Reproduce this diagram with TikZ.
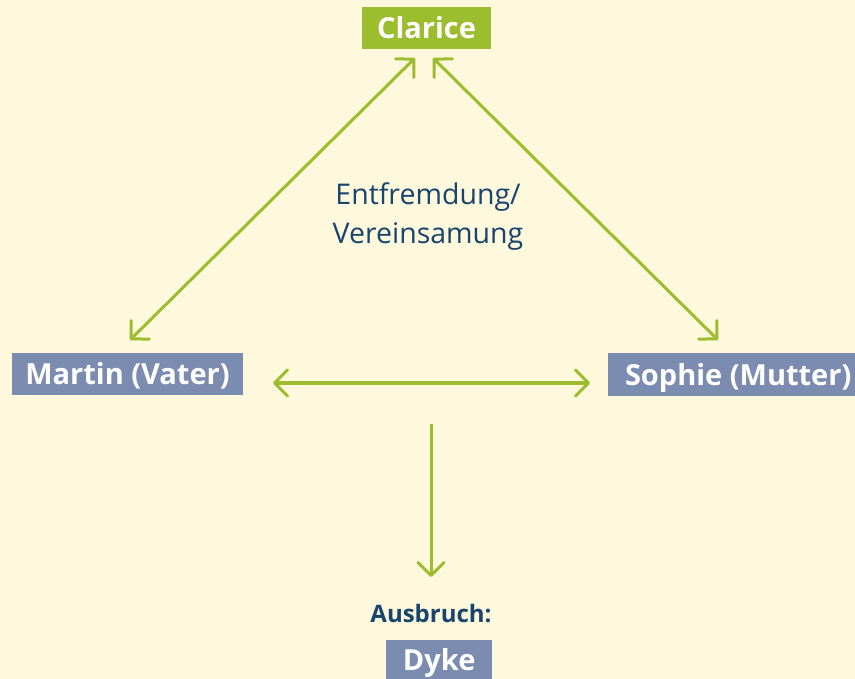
\documentclass[tikz,border=0pt]{standalone}
\usepackage{fontspec}
\setmainfont{Open Sans}
\usetikzlibrary{arrows.meta}
\definecolor{bg}{HTML}{FEF8DC}
\definecolor{lime}{HTML}{9CBD2E}
\definecolor{slate}{HTML}{7B8CB0}
\definecolor{navy}{HTML}{17456E}
\tikzset{
  box/.style={inner sep=0pt, text=white, font=\fontsize{29}{32}\selectfont\bfseries, minimum height=42pt, text height=21pt, text depth=0pt},
  greenbox/.style={box, fill=lime},
  bluebox/.style={box, fill=slate},
  tip/.tip={Straight Barb[length=13pt,width=26pt,line width=3pt,round]},
  link/.style={draw=lime, line width=3pt, tip-tip},
  onelink/.style={draw=lime, line width=3pt, -tip},
  caption/.style={text=navy, font=\fontsize{28.5}{39}\selectfont, align=center},
}
\begin{document}
\begin{tikzpicture}[x=1pt,y=-1pt]
\fill[bg] (0,0) rectangle (855,679);
\useasboundingbox (0,0) rectangle (855,679);
\node[greenbox, minimum width=129pt] (clarice) at (426.5,28.5) {Clarice};
\node[bluebox, minimum width=231pt] (martin) at (127.5,374) {Martin (Vater)};
\node[bluebox, minimum width=260pt, anchor=west] (sophie) at (608,374.5) {\hspace*{16pt}Sophie (Mutter)\hspace*{16pt}};
\node[bluebox, minimum width=106pt, minimum height=40pt, anchor=north west] (dyke) at (386,640) {Dyke};
\node[caption] (entf) at (428,217) {Entfremdung/\\Vereinsamung};
\node[text=navy, font=\fontsize{24}{27}\selectfont\bfseries] (ausbruch) at (431,614) {Ausbruch:};
\coordinate (c1) at (415,58);
\coordinate (m1) at (130,340);
\coordinate (c2) at (433,58);
\coordinate (s1) at (718,340);
\coordinate (m2) at (273,383);
\coordinate (s2) at (590,383);
\coordinate (d1) at (431,424);
\coordinate (d2) at (431,577);
\draw[link] (c1) -- (m1);
\draw[link] (c2) -- (s1);
\draw[link] (m2) -- (s2);
\draw[onelink] (d1) -- (d2);
\end{tikzpicture}
\end{document}
